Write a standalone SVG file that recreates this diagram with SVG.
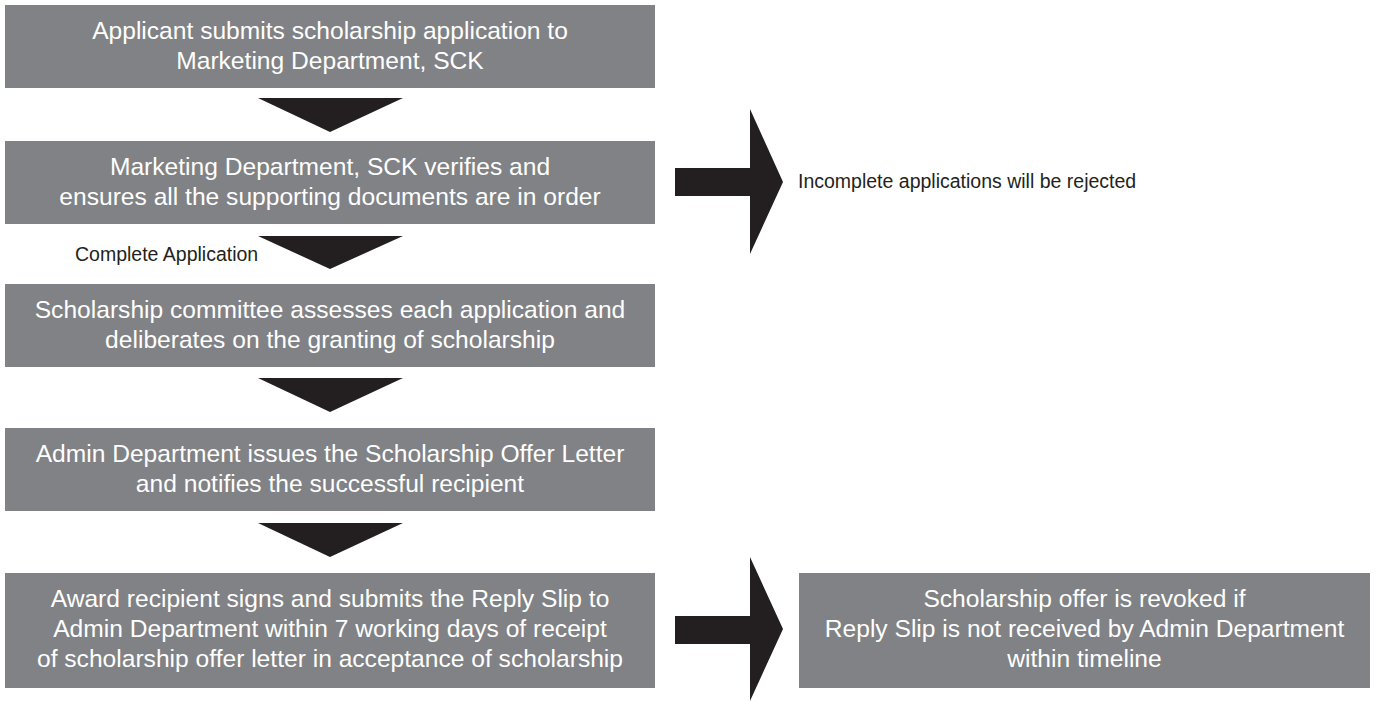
<svg xmlns="http://www.w3.org/2000/svg" width="1375" height="701" viewBox="0 0 1375 701">
<style>
.box{fill:#808285}
.bt{font-family:"Liberation Sans",Arial,sans-serif;font-size:24.6px;fill:#ffffff;text-anchor:middle}
.lbl{font-family:"Liberation Sans",Arial,sans-serif;font-size:19.5px;fill:#231f20}
.arr{fill:#231f20}
</style>
<rect width="1375" height="701" fill="#ffffff"/>
<g id="connectors">
<polygon class="arr" points="258,98 403,98 330,132"/>
<polygon class="arr" points="258,236 403,236 330,269"/>
<polygon class="arr" points="258,378 403,378 330,412"/>
<polygon class="arr" points="258,523 403,523 330,557"/>
<polygon class="arr" points="675,168 750,168 750,109 783,182 750,254 750,196 675,196"/>
<polygon class="arr" points="675,616 750,616 750,557 783,629 750,701 750,644 675,644"/>
<text class="lbl" x="75" y="261">Complete Application</text>
<text class="lbl" x="798" y="188">Incomplete applications will be rejected</text>
</g>
<g id="n1">
<rect class="box" x="5" y="5" width="650" height="83"/>
<text class="bt" x="330" y="38.5">Applicant submits scholarship application to</text>
<text class="bt" x="330" y="68.5">Marketing Department, SCK</text>
</g>
<g id="n2">
<rect class="box" x="5" y="141" width="650" height="83"/>
<text class="bt" x="330" y="174.5">Marketing Department, SCK verifies and</text>
<text class="bt" x="330" y="204.5">ensures all the supporting documents are in order</text>
</g>
<g id="n3">
<rect class="box" x="5" y="284" width="650" height="83"/>
<text class="bt" x="330" y="317.5">Scholarship committee assesses each application and</text>
<text class="bt" x="330" y="347.5">deliberates on the granting of scholarship</text>
</g>
<g id="n4">
<rect class="box" x="5" y="428" width="650" height="83"/>
<text class="bt" x="330" y="461.5">Admin Department issues the Scholarship Offer Letter</text>
<text class="bt" x="330" y="491.5">and notifies the successful recipient</text>
</g>
<g id="n5">
<rect class="box" x="5" y="573" width="650" height="115"/>
<text class="bt" x="330" y="606.5">Award recipient signs and submits the Reply Slip to</text>
<text class="bt" x="330" y="636.5">Admin Department within 7 working days of receipt</text>
<text class="bt" x="330" y="666.5">of scholarship offer letter in acceptance of scholarship</text>
</g>
<g id="n6">
<rect class="box" x="799" y="573" width="571" height="115"/>
<text class="bt" x="1084.5" y="606.5">Scholarship offer is revoked if</text>
<text class="bt" x="1084.5" y="636.5">Reply Slip is not received by Admin Department</text>
<text class="bt" x="1084.5" y="666.5">within timeline</text>
</g>
</svg>
